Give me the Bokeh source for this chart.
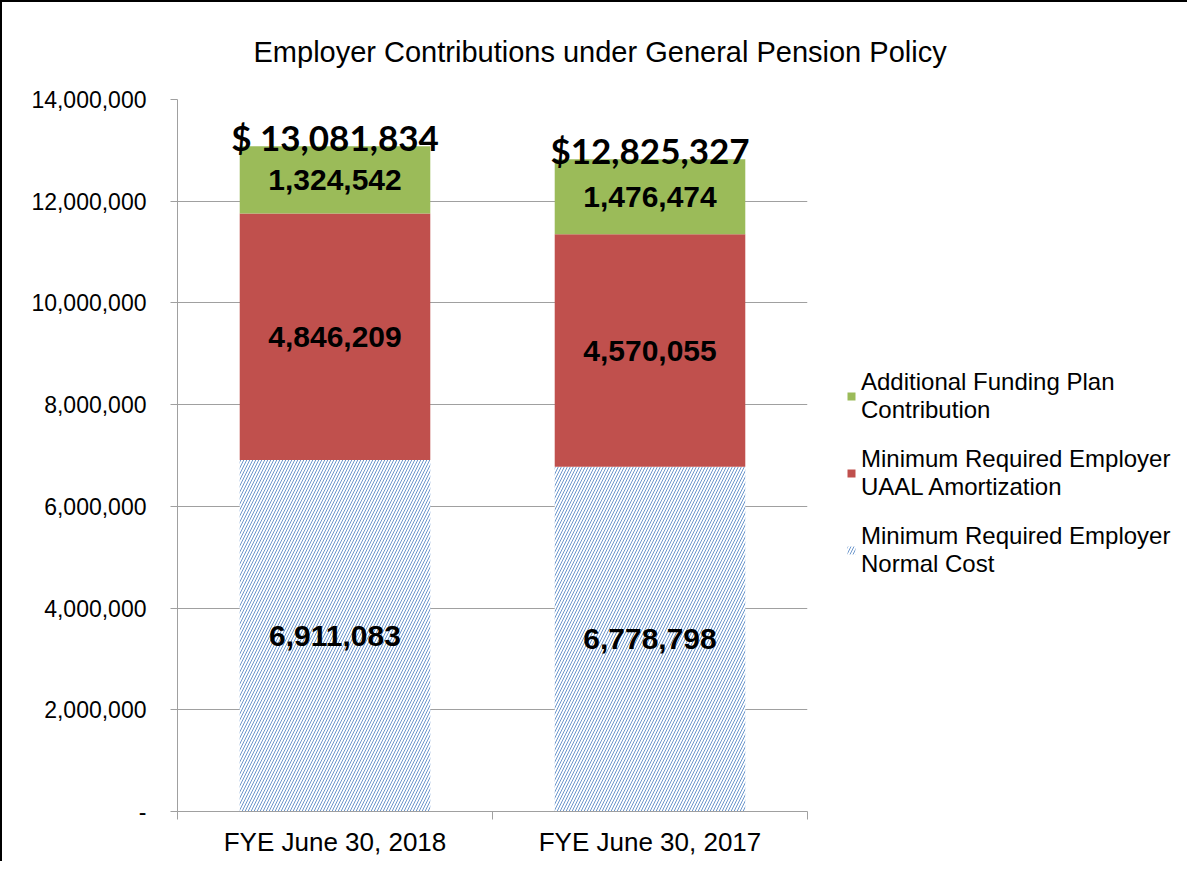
import numpy as np
from bokeh.plotting import figure
from bokeh.models import (Range1d, FixedTicker, CustomJSTickFormatter, Legend, LegendItem, ColumnDataSource)
from bokeh.core.properties import value
from bokeh.embed import file_html
from bokeh.resources import INLINE

# ---- data ----
categories = ["FYE June 30, 2018", "FYE June 30, 2017"]
normal_cost = [6911083, 6778798]
uaal_amort = [4846209, 4570055]
additional = [1324542, 1476474]
total_labels = ["$ 13,081,834", "$12,825,327"]
series_names = ["Minimum Required Employer\nNormal Cost",
                "Minimum Required Employer\nUAAL Amortization",
                "Additional Funding Plan\nContribution"]
y_ticks = [0, 2000000, 4000000, 6000000, 8000000, 10000000, 12000000, 14000000]

FONT = "Liberation Sans"
GRAY = "#a0a0a0"

xc = np.arange(len(categories)) + 0.5
s1 = np.array(normal_cost, dtype=float)
s2 = np.array(uaal_amort, dtype=float)
s3 = np.array(additional, dtype=float)
b1, t1 = np.zeros_like(s1), s1
b2, t2 = t1, t1 + s2
b3, t3 = t2, t2 + s3

p = figure(frame_width=630, frame_height=712, output_backend="svg", toolbar_location=None,
           x_range=Range1d(0, 2), y_range=Range1d(0, 14000000),
           min_border_left=175, min_border_right=360, min_border_top=97, min_border_bottom=50)
p.styles = {"border-left": "2px solid black", "border-top": "2px solid black"}
p.outline_line_color = None
p.background_fill_color = "white"
p.border_fill_color = "white"

p.title.text = "Employer Contributions under General Pension Policy"
p.title.align = "left"
p.title.offset = 76
p.title.text_font = FONT
p.title.text_font_style = "normal"
p.title.text_font_size = "29px"
p.title.text_color = "black"
p.title.standoff = 59
p.title.vertical_align = "top"

W = 0.605
r_blue = p.vbar(x=xc, bottom=b1, top=t1, width=W, fill_color="white", line_color=None,
                hatch_pattern="/", hatch_color="#6b96cc", hatch_scale=6, hatch_weight=1)
r_red = p.vbar(x=xc, bottom=b2, top=t2, width=W, fill_color="#c0504d", line_color=None)
r_green = p.vbar(x=xc, bottom=b3, top=t3, width=W, fill_color="#9bbb59", line_color=None)

# segment labels
for bot, top, vals in [(b1, t1, normal_cost), (b2, t2, uaal_amort), (b3, t3, additional)]:
    src = ColumnDataSource(dict(x=xc, y=(bot + top) / 2, t=[f"{v:,}" for v in vals]))
    p.text(x="x", y="y", text="t", source=src, text_align="center", text_baseline="middle",
           text_font=value(FONT), text_font_style="bold", text_font_size="30px", text_color="black")

src_tot = ColumnDataSource(dict(x=xc, y=t3, t=total_labels))
p.text(x="x", y="y", text="t", source=src_tot, text_align="center", text_baseline="middle",
       y_offset=-9, text_font=value("Lato"), text_font_style="bold", text_font_size="35px",
       text_color="black")

# axes
p.xgrid.visible = False
p.ygrid.ticker = FixedTicker(ticks=y_ticks)
p.ygrid.grid_line_color = GRAY

yax = p.yaxis[0]
yax.ticker = FixedTicker(ticks=y_ticks, minor_ticks=[])
yax.formatter = CustomJSTickFormatter(code="return tick == 0 ? '-' : Math.round(tick).toLocaleString('en-US');")
yax.axis_line_color = GRAY
yax.major_tick_line_color = GRAY
yax.major_tick_out = 7
yax.major_tick_in = 0
yax.minor_tick_line_color = None
yax.major_label_standoff = 24
yax.major_label_text_font = FONT
yax.major_label_text_font_size = "23px"
yax.major_label_text_color = "black"

xax = p.xaxis[0]
xax.ticker = FixedTicker(ticks=list(xc), minor_ticks=list(range(len(categories) + 1)))
xax.formatter = CustomJSTickFormatter(args=dict(labels=categories), code="return labels[Math.floor(tick)];")
xax.axis_line_color = GRAY
xax.major_tick_line_color = None
xax.minor_tick_line_color = GRAY
xax.minor_tick_out = 8
xax.minor_tick_in = 0
xax.major_label_standoff = 7
xax.major_label_text_font = FONT
xax.major_label_text_font_size = "26px"
xax.major_label_text_color = "black"

legend = Legend(items=[LegendItem(label=series_names[2], renderers=[r_green]),
                       LegendItem(label=series_names[1], renderers=[r_red]),
                       LegendItem(label=series_names[0], renderers=[r_blue])],
                location=(39, 233))
legend.label_text_font = FONT
legend.label_text_font_size = "24px"
legend.label_text_color = "black"
legend.border_line_color = None
legend.background_fill_alpha = 0
legend.padding = 0
legend.margin = 0
legend.spacing = 21
legend.glyph_width = 10
legend.glyph_height = 10
legend.label_standoff = 5
p.add_layout(legend, "right")

open("out.html", "w").write(file_html(p, INLINE))
